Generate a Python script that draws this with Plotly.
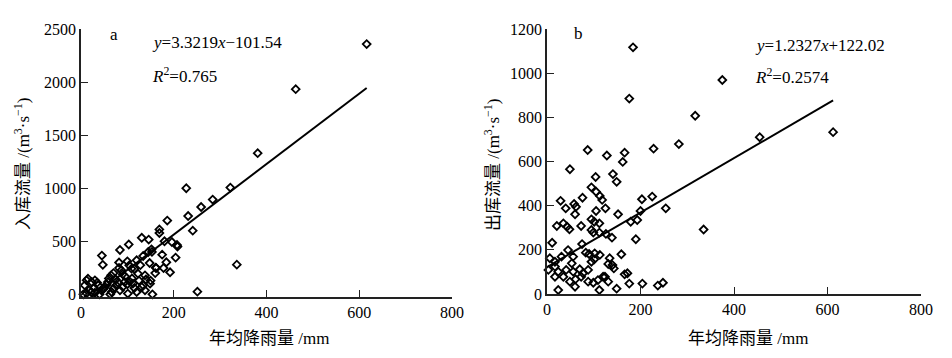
import plotly.graph_objects as go

# ---------------- data ----------------
# Panel a: annual rainfall (mm) vs inflow (m3/s)
rain_a = [616, 463, 381, 227, 322, 284, 259, 231, 186, 241, 169, 169, 131, 146, 103, 84,
          180, 196, 207, 208, 153, 45, 47, 175, 336, 204, 184, 82, 100, 178, 162, 192, 154, 251,
          120, 134, 145, 152, 161, 65, 87, 109, 123, 138, 15, 30, 8, 37, 58, 76, 94, 112, 134, 149,
          22, 44, 66, 84, 101, 120, 138, 5, 40, 63, 131, 12, 23, 104, 148, 82,
          50, 70, 90, 110, 125, 95, 75, 55, 28, 18, 100, 115, 140, 160, 128, 90, 60, 35, 80, 105,
          70, 115, 30, 12, 48, 150]
inflow_a = [2358, 1933, 1330, 1000, 1006, 893, 823, 738, 695, 600, 612, 578, 533, 516, 470, 418,
            500, 493, 465, 450, 400, 365, 278, 374, 280, 346, 302, 300, 311, 248, 248, 208, 0, 25,
            321, 361, 399, 424, 252, 179, 226, 242, 195, 179, 148, 132, 85, 85, 116, 85, 116, 101, 85, 101,
            22, 38, 22, 38, 7, 22, 38, 0, 0, 0, 69, 132, 116, 273, 295, 248,
            60, 55, 70, 150, 130, 170, 140, 90, 60, 40, 95, 60, 140, 200, 275, 190, 150, 110, 110, 120,
            200, 240, 15, 10, 50, 130]

# Panel b: annual rainfall (mm) vs outflow (m3/s)
rain_b = [184, 375, 176, 317, 612, 455, 335, 282, 87, 166, 228, 128, 162, 49, 141, 149, 104,
          95, 105, 113, 118, 76, 29, 58, 62, 40, 125, 105, 60, 152, 203, 225, 200, 254, 179, 193,
          95, 101, 112, 21, 35, 43, 48, 73, 95, 99, 112, 126, 139, 190, 11, 75, 45, 6, 17, 31, 56,
          53, 83, 90, 102, 113, 95, 101, 134, 140, 131, 159, 3, 17, 24, 41, 56, 70, 77, 88, 17, 35,
          49, 61, 73, 88, 99, 109, 124, 131, 24, 60, 112, 149, 166, 172, 176, 204, 237, 248, 143, 120]
outflow_b = [1117, 969, 885, 807, 733, 710, 292, 679, 652, 640, 658, 627, 598, 565, 543, 508, 530,
             483, 463, 444, 426, 436, 422, 408, 395, 388, 388, 376, 361, 361, 429, 441, 376, 388, 327, 335,
             338, 327, 320, 308, 320, 305, 293, 308, 290, 278, 278, 272, 255, 248, 232, 226, 199, 162, 146, 169, 169,
             139, 187, 181, 184, 177, 146, 157, 162, 131, 136, 180, 109, 124, 101, 109, 101, 112, 94, 109, 78, 78,
             56, 67, 78, 56, 51, 63, 78, 56, 18, 33, 18, 24, 89, 94, 47, 47, 38, 51, 116, 78]

# Regression coefficients shown on the chart
slope_a, icpt_a = 3.3219, -101.54
slope_b, icpt_b = 1.2327, 122.02

x_ticks = [0, 200, 400, 600, 800]
y_ticks_a = [0, 500, 1000, 1500, 2000, 2500]
y_ticks_b = [0, 200, 400, 600, 800, 1000, 1200]

# ---------------- figure ----------------
W, H = 952, 358
SERIF = "Liberation Serif, Times New Roman, serif"
MIX = "Liberation Serif, Noto Sans CJK SC, serif"

marker = dict(symbol="diamond-open", size=6, color="black", line=dict(width=1.8, color="black"))

fig = go.Figure()
fig.add_trace(go.Scatter(x=rain_a, y=inflow_a, mode="markers", marker=marker,
                         xaxis="x", yaxis="y", showlegend=False, cliponaxis=False))
la_x = [min(rain_a), max(rain_a)]
fig.add_trace(go.Scatter(x=la_x, y=[slope_a * v + icpt_a for v in la_x], mode="lines",
                         line=dict(color="black", width=2), xaxis="x", yaxis="y", showlegend=False))
fig.add_trace(go.Scatter(x=rain_b, y=outflow_b, mode="markers", marker=marker,
                         xaxis="x2", yaxis="y2", showlegend=False, cliponaxis=False))
lb_x = [min(rain_b), max(rain_b)]
fig.add_trace(go.Scatter(x=lb_x, y=[slope_b * v + icpt_b for v in lb_x], mode="lines",
                         line=dict(color="black", width=2), xaxis="x2", yaxis="y2", showlegend=False))

def px(x):
    return x / W

def py(y):
    return 1 - y / H

axis_common = dict(showgrid=False, zeroline=False, showline=True, linecolor="#222", linewidth=1.5,
                   ticks="inside", ticklen=7, tickwidth=1.2, tickcolor="#222", automargin=False,
                   tickfont=dict(family=SERIF, size=16, color="black"))

fig.update_layout(
    width=W, height=H, margin=dict(l=0, r=0, t=0, b=0, autoexpand=False),
    plot_bgcolor="white", paper_bgcolor="white",
    xaxis=dict(domain=[px(81), px(452)], range=[0, 800], tickvals=x_ticks, anchor="y", **axis_common),
    yaxis=dict(domain=[py(297), py(29)], range=[-25, 2500], tickvals=y_ticks_a, anchor="x", **axis_common),
    xaxis2=dict(domain=[px(547), px(921)], range=[0, 800], tickvals=x_ticks, anchor="y2", **axis_common),
    yaxis2=dict(domain=[py(294), py(29)], range=[0, 1200], tickvals=y_ticks_b, anchor="x2", **axis_common),
)

ann_font = dict(family=SERIF, size=17, color="black")
cjk_font = dict(family=MIX, size=17, color="black")
anns = [
    dict(x=px(108), y=py(35), text="a", xanchor="left"),
    dict(x=px(150), y=py(43), text="<i>y</i>=3.3219<i>x</i>−101.54", xanchor="left"),
    dict(x=px(150), y=py(75), text="<i>R</i><sup>2</sup>=0.765", xanchor="left"),
    dict(x=px(572), y=py(33), text="b", xanchor="left"),
    dict(x=px(753), y=py(45), text="<i>y</i>=1.2327<i>x</i>+122.02", xanchor="left"),
    dict(x=px(753), y=py(76), text="<i>R</i><sup>2</sup>=0.2574", xanchor="left"),
]
for a in anns:
    fig.add_annotation(xref="paper", yref="paper", yanchor="middle", showarrow=False, font=ann_font, **a)

titles = [
    dict(x=px(22), y=py(164), text="入库流量 /(m<sup>3</sup>·s<sup>−1</sup>)", textangle=-90),
    dict(x=px(492), y=py(165), text="出库流量 /(m<sup>3</sup>·s<sup>−1</sup>)", textangle=-90),
    dict(x=px(269), y=py(338), text="年均降雨量 /mm", textangle=0),
    dict(x=px(748), y=py(338), text="年均降雨量 /mm", textangle=0),
]
for t in titles:
    fig.add_annotation(xref="paper", yref="paper", xanchor="center", yanchor="middle",
                       showarrow=False, font=cjk_font, **t)

fig.write_html("out.html", config={"displayModeBar": False},
               post_script="document.body.style.margin='0';document.body.style.overflow='hidden';")
